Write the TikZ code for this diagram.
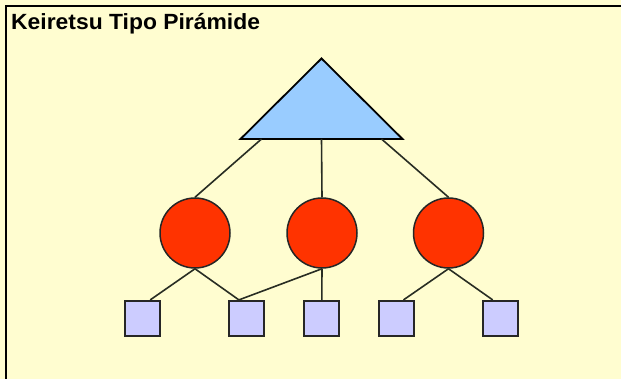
\documentclass[tikz,border=0pt]{standalone}
\usepackage{fontspec}
\setmainfont{Liberation Sans}
\usetikzlibrary{positioning}
\definecolor{bgyellow}{RGB}{255,253,208}
\definecolor{pyrblue}{RGB}{153,204,255}
\definecolor{firmred}{RGB}{255,51,0}
\definecolor{boxlilac}{RGB}{204,204,255}
\definecolor{linkgray}{RGB}{40,45,35}
\begin{document}
\begin{tikzpicture}[x=1pt,y=-1pt,
    firm/.style={circle,draw=black!85,fill=firmred,line width=1.5pt,minimum size=70pt,inner sep=0pt},
    supplier/.style={rectangle,draw=black!85,fill=boxlilac,line width=1.8pt,minimum size=35pt,inner sep=0pt},
    link/.style={draw=linkgray,line width=1.6pt}]
    \fill[bgyellow] (0,0) rectangle (621,379);
    \useasboundingbox (0,0) rectangle (621,379);
    \draw[line width=2pt] (6,379) -- (6,6) -- (621,6);
    \node[anchor=base west,inner sep=0pt,xscale=1.04,font=\bfseries\fontsize{22}{26}\selectfont] (title) at (11,29.5) {Keiretsu Tipo Pirámide};

    % pyramid at the top
    \coordinate (apex) at (321.5,58.5);
    \coordinate (bl) at (240.5,139);
    \coordinate (br) at (402.5,139);
    \coordinate (pl) at (261.5,139);
    \coordinate (pm) at (321.5,139);
    \coordinate (pr) at (381.5,139);
    \draw[fill=pyrblue,line width=1.8pt] (apex) -- (bl) -- (br) -- cycle;

    % member firms
    \node[firm] (c1) at (195,233) {};
    \node[firm] (c2) at (322,233) {};
    \node[firm] (c3) at (448.5,233) {};

    % suppliers
    \node[supplier] (s1) at (142.8,318.3) {};
    \node[supplier] (s2) at (246.7,318.3) {};
    \node[supplier] (s3) at (321.8,318.3) {};
    \node[supplier] (s4) at (396.8,318.3) {};
    \node[supplier] (s5) at (500.5,318.3) {};

    \draw[link] (pl) -- (c1.north);
    \draw[link] (pm) -- (c2.north);
    \draw[link] (pr) -- (c3.north);
    \draw[link] (c1.south) -- (s1.68);
    \draw[link] (c1.south) -- (s2.113);
    \draw[link] (c2.south) -- (s2.113);
    \draw[link] (c2.south) -- (s3.north);
    \draw[link] (c3.south) -- (s4.70);
    \draw[link] (c3.south) -- (s5.113);
\end{tikzpicture}
\end{document}
